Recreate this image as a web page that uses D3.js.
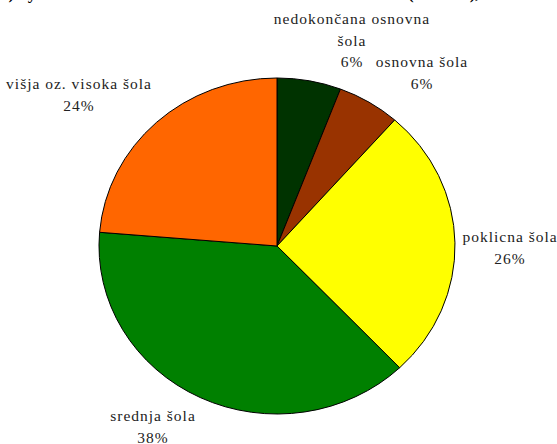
<!DOCTYPE html>
<html>
<head>
<meta charset="utf-8">
<script src="https://cdn.jsdelivr.net/npm/d3@7"></script>
<style>
  body { margin: 0; background: #fff; }
</style>
</head>
<body>
<script>
// data, clockwise from 12 o'clock
var categories = ["nedokončana osnovna šola", "osnovna šola", "poklicna šola", "srednja šola", "višja oz. visoka šola"];
var values = [5.8, 5.7, 26.4, 38.4, 23.7];
var colors = ["#003300", "#993300", "#ffff00", "#008000", "#ff6600"];
// label lines for each slice
var labelLines = [["nedokončana osnovna", "šola"], ["osnovna šola"], ["poklicna šola"], ["srednja šola"], ["višja oz. visoka šola"]];

var width = 557,
    height = 444;

var cx = 277, cy = 246,
    rx = 178, ry = 168;

var serif = "'Liberation Serif', 'DejaVu Serif', 'Times New Roman', serif";

var svg = d3.select("body").append("svg")
    .attr("width", width)
    .attr("height", height);

// title is cut off at the top of the picture, only descenders show
var title = svg.append("text")
    .attr("y", -1.5)
    .style("font-family", serif)
    .style("font-size", "17px")
    .style("font-weight", "bold");
title.append("tspan").attr("x", 0).text("a) by izobrazbi anketirancev");
title.append("tspan").attr("x", 408).text("(N = 350),");

var data = categories.map(function(c, i) {
    return {name: c, value: values[i], color: colors[i], lines: labelLines[i]};
});

var pie = d3.pie()
    .value(function(d) { return d.value; })
    .sort(null);

var arc = d3.arc()
    .innerRadius(0)
    .outerRadius(rx);

var g = svg.append("g")
    .attr("transform", "translate(" + cx + "," + cy + ") scale(1," + (ry / rx) + ")");

g.selectAll("path")
    .data(pie(data))
    .enter()
    .append("path")
    .attr("d", arc)
    .style("fill", function(d) { return d.data.color; })
    .style("stroke", "#000")
    .style("stroke-width", 1)
    .attr("vector-effect", "non-scaling-stroke");

// label anchor points (center of first line)
var labelPos = [[352, 24], [422, 67], [510, 242], [153, 421], [79, 89]];
var lineH = 21.5;

data.forEach(function(d, i) {
    var t = svg.append("text")
        .attr("text-anchor", "middle")
        .style("font-family", serif)
        .style("font-size", "15.5px")
        .style("letter-spacing", "1px")
        .style("fill", "#222");
    var lines = d.lines.concat([Math.round(d.value) + "%"]);
    lines.forEach(function(s, j) {
        t.append("tspan")
            .attr("x", labelPos[i][0])
            .attr("y", labelPos[i][1] + j * lineH)
            .text(s);
    });
});
</script>
</body>
</html>
